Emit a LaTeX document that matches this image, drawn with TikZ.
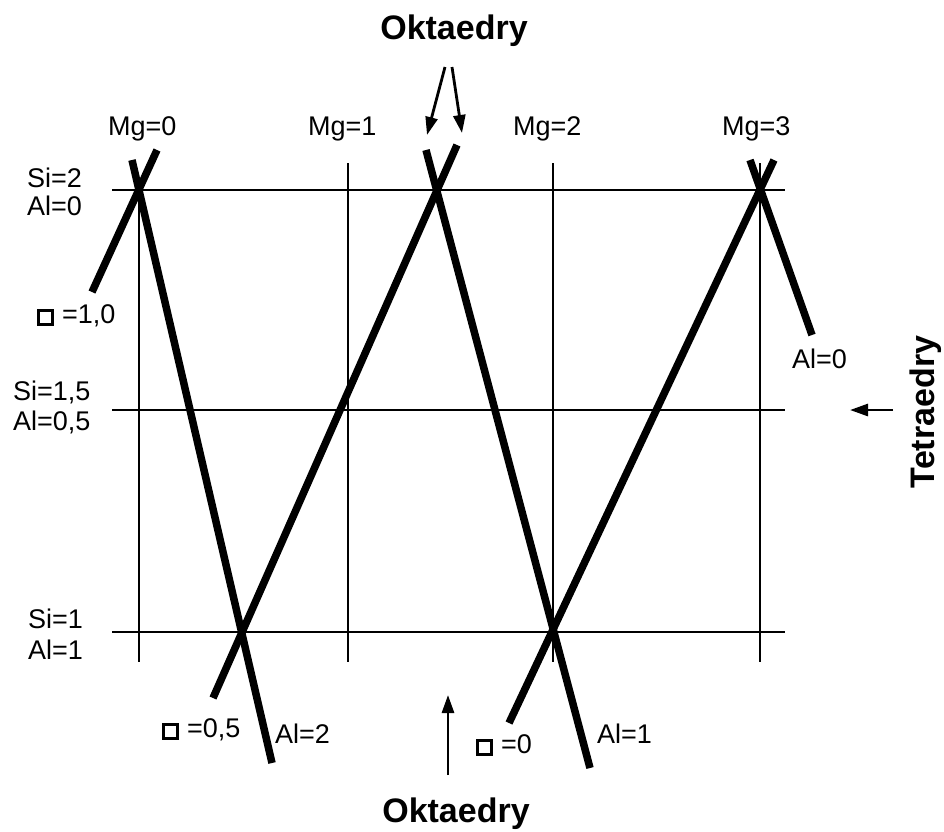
\documentclass[tikz,border=0pt]{standalone}
\usepackage{fontspec}
\setmainfont{Liberation Sans}
\usetikzlibrary{arrows.meta}
\newcommand{\vacbox}{{\fboxsep=0pt\fboxrule=3pt\fbox{\rule{0pt}{11pt}\rule{11pt}{0pt}}}\hspace{8pt}}
\begin{document}
\begin{tikzpicture}[x=1pt,y=-1pt,
  grid/.style={line width=2.6pt},
  heavy/.style={line width=7.5pt},
  lbl/.style={font=\fontsize{27}{30}\selectfont, inner sep=0pt, anchor=base west},
  big/.style={font=\fontsize{34}{38}\selectfont\bfseries, inner sep=0pt},
  pointer/.style={line width=2.8pt, -{Triangle[length=18pt,width=12pt]}}]
\useasboundingbox (0,0) rectangle (944,831);
% grid coordinates
\coordinate (a0) at (139,190);
\coordinate (hL2) at (112,190); \coordinate (hR2) at (785,190);
\coordinate (hL15) at (112,410); \coordinate (hR15) at (785,410);
\coordinate (hL1) at (112,632); \coordinate (hR1) at (785,632);
\coordinate (v0b) at (139,662);
\coordinate (v1t) at (348,163); \coordinate (v1b) at (348,662);
\coordinate (v2t) at (553,163); \coordinate (v2b) at (553,662);
\coordinate (v3t) at (760,163); \coordinate (v3b) at (760,662);
% grid lines
\draw[grid] (hL2) -- (hR2);
\draw[grid] (hL15) -- (hR15);
\draw[grid] (hL1) -- (hR1);
\draw[grid] (a0) -- (v0b);
\draw[grid] (v1t) -- (v1b);
\draw[grid] (v2t) -- (v2b);
\draw[grid] (v3t) -- (v3b);
% heavy line endpoints
\coordinate (Atop) at (132,160); \coordinate (Abot) at (272,763);
\coordinate (Btop) at (157,150); \coordinate (Bbot) at (92,292);
\coordinate (Cbot) at (213,698); \coordinate (Ctop) at (457,145);
\coordinate (Dtop) at (426,150); \coordinate (Dbot) at (590,768);
\coordinate (Ebot) at (509,723); \coordinate (Etop) at (774,160);
\coordinate (Ftop) at (750,160); \coordinate (Fbot) at (812,335);
\draw[heavy] (Atop) -- (Abot);
\draw[heavy] (Btop) -- (Bbot);
\draw[heavy] (Cbot) -- (Ctop);
\draw[heavy] (Dtop) -- (Dbot);
\draw[heavy] (Ebot) -- (Etop);
\draw[heavy] (Ftop) -- (Fbot);
% labels
\node[lbl] (mg0) at (108,135) {Mg=0};
\node[lbl] (mg1) at (308,135) {Mg=1};
\node[lbl] (mg2) at (513,135) {Mg=2};
\node[lbl] (mg3) at (722,135) {Mg=3};
\node[lbl] (si2) at (27,187) {Si=2};
\node[lbl] (al0) at (27,215) {Al=0};
\node[lbl] (si15) at (13,400) {Si=1,5};
\node[lbl] (al05) at (13,430) {Al=0,5};
\node[lbl] (si1) at (28,628) {Si=1};
\node[lbl] (al1) at (28,659) {Al=1};
\node[lbl] (sq10) at (37,323) {\vacbox=1,0};
\node[lbl] (sq05) at (162,737) {\vacbox=0,5};
\node[lbl] (al2b) at (275,743) {Al=2};
\node[lbl] (sq0) at (476,753) {\vacbox=0};
\node[lbl] (al1b) at (597,743) {Al=1};
\node[lbl] (al0r) at (792,368) {Al=0};
% big labels
\node[big, anchor=base] (oktop) at (454,39) {Oktaedry};
\node[big, anchor=base] (okbot) at (456,822) {Oktaedry};
\node[big, anchor=base, rotate=90] (tetra) at (934,412) {Tetraedry};
% arrows
\coordinate (p1s) at (445,67); \coordinate (p1e) at (427,135);
\coordinate (p2s) at (452,67); \coordinate (p2e) at (462,133);
\coordinate (p3s) at (448,775); \coordinate (p3e) at (448,695);
\coordinate (p4s) at (893,410); \coordinate (p4e) at (850,410);
\draw[pointer] (p1s) -- (p1e);
\draw[pointer] (p2s) -- (p2e);
\draw[pointer] (p3s) -- (p3e);
\draw[pointer] (p4s) -- (p4e);
\end{tikzpicture}
\end{document}
